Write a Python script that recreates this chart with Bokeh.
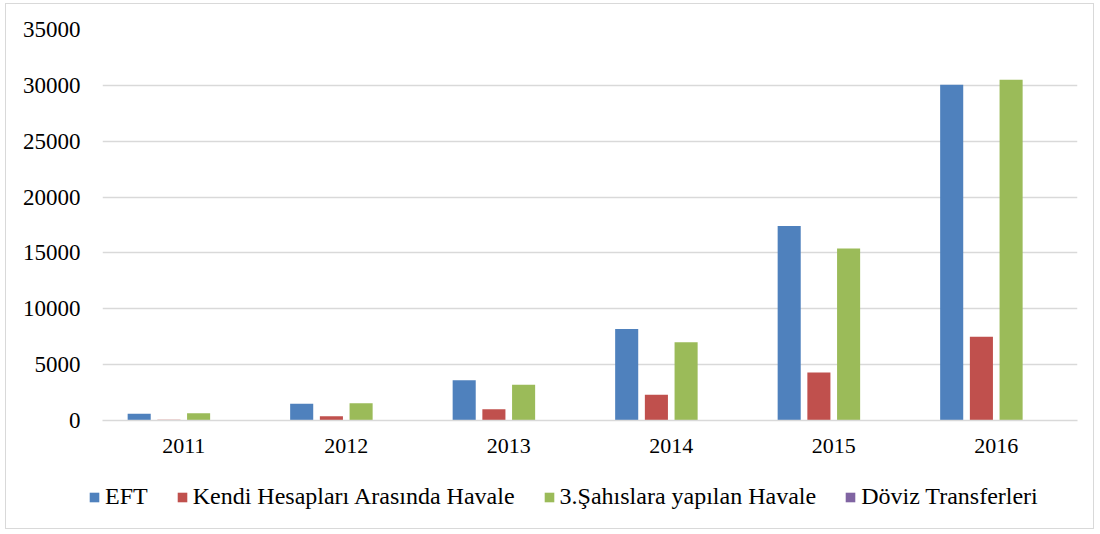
from bokeh.plotting import figure
from bokeh.layouts import column, row
from bokeh.models import ColumnDataSource, FactorRange, Legend, LegendItem
from bokeh.transform import dodge
from bokeh.embed import file_html
from bokeh.resources import INLINE

years = ["2011", "2012", "2013", "2014", "2015", "2016"]
eft = [600, 1500, 3600, 8200, 17400, 30050]
kendi = [60, 390, 1000, 2300, 4300, 7500]
sahis = [650, 1550, 3200, 7000, 15400, 30500]
doviz = [0, 0, 0, 0, 0, 0]
series_names = ["EFT", "Kendi Hesapları Arasında Havale", "3.Şahıslara yapılan Havale", "Döviz Transferleri"]
colors = ["#4F81BD", "#C0504D", "#9BBB59", "#8064A2"]
y_ticks = [0, 5000, 10000, 15000, 20000, 25000, 30000, 35000]

source = ColumnDataSource(dict(years=years, eft=eft, kendi=kendi, sahis=sahis, doviz=doviz))

FONT = "Liberation Serif"
W = 1087
p = figure(x_range=FactorRange(*years, range_padding=0), y_range=(0, 35000),
           width=W, height=470, output_backend="svg", toolbar_location=None,
           min_border_left=96, min_border_right=16, min_border_top=25, min_border_bottom=54)

bw = 0.142
step = 0.1828
offsets = [-1.5 * step, -0.5 * step, 0.5 * step, 1.5 * step]
cols = ["eft", "kendi", "sahis", "doviz"]
for col, off, c in zip(cols, offsets, colors):
    p.vbar(x=dodge("years", off, range=p.x_range), top=col, width=bw, source=source,
           fill_color=c, line_color=None)

p.outline_line_color = None
p.xgrid.grid_line_color = None
p.ygrid.grid_line_color = "#d9d9d9"
p.ygrid.grid_line_width = 1.5
p.yaxis.ticker = y_ticks
p.yaxis.axis_line_color = None
p.yaxis.major_tick_line_color = None
p.yaxis.minor_tick_line_color = None
p.yaxis.major_label_standoff = 16
p.yaxis.major_label_text_font_size = "23px"
p.xaxis.axis_line_color = "#d9d9d9"
p.xaxis.axis_line_width = 1.5
p.xaxis.major_tick_line_color = None
p.xaxis.major_label_standoff = 12
p.xaxis.major_label_text_font_size = "22px"
for ax in (p.xaxis, p.yaxis):
    ax.major_label_text_font = FONT
    ax.major_label_text_color = "#000000"

# legend strip below the chart (renderers hidden; only their legend entries show)
lg = figure(width=W, height=54, output_backend="svg", toolbar_location=None,
            x_axis_type=None, y_axis_type=None,
            min_border_left=0, min_border_right=0, min_border_top=0, min_border_bottom=0,
            x_range=FactorRange(*years), y_range=(0, 35000))
lg.outline_line_color = None
lg.grid.visible = False
legend_renderers = []
for col, c in zip(cols, colors):
    r = lg.vbar(x="years", top=col, width=bw, source=source, fill_color=c, line_color=None)
    r.visible = False
    legend_renderers.append(r)
legend = Legend(items=[LegendItem(label=n, renderers=[r]) for n, r in zip(series_names, legend_renderers)],
                orientation="horizontal", location=(82, 18),
                glyph_width=12, glyph_height=12, label_standoff=5, spacing=28,
                padding=0, margin=0, border_line_color=None, background_fill_alpha=0,
                inactive_fill_alpha=0,
                label_text_font=FONT, label_text_font_size="24px", label_text_color="#000000")
lg.add_layout(legend, "center")

layout = column(p, row(lg), spacing=0)
layout.styles = {"border": "1.5px solid #d9d9d9", "margin-left": "5px", "margin-top": "3px"}

open("out.html", "w").write(file_html(layout, INLINE))
